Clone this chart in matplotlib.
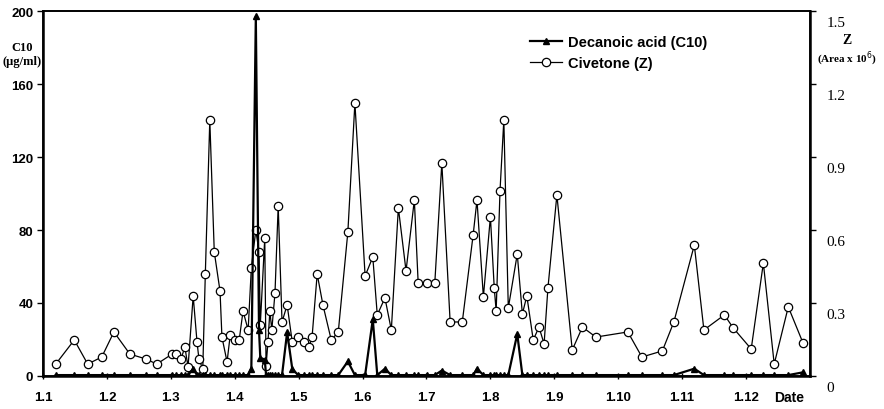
import matplotlib
matplotlib.use("Agg")
import matplotlib.pyplot as plt
from matplotlib.transforms import ScaledTranslation
from matplotlib.lines import Line2D

# sampling dates, as months after 1 Jan (0 = 1.1, 1 = 1.2, ...)
months = [0.20, 0.49, 0.70, 0.92, 1.11, 1.36, 1.61, 1.78, 2.02, 2.08,
          2.16, 2.22, 2.27, 2.35, 2.41, 2.44, 2.50, 2.54, 2.61, 2.68,
          2.77, 2.80, 2.88, 2.93, 3.00, 3.07, 3.13, 3.21, 3.26, 3.33,
          3.38, 3.40, 3.47, 3.49, 3.52, 3.55, 3.58, 3.63, 3.68, 3.74,
          3.82, 3.90, 3.99, 4.08, 4.16, 4.21, 4.29, 4.38, 4.51, 4.62,
          4.77, 4.88, 5.04, 5.16, 5.23, 5.35, 5.45, 5.56, 5.68, 5.81,
          5.87, 6.01, 6.13, 6.24, 6.37, 6.56, 6.73, 6.79, 6.89, 7.00,
          7.06, 7.09, 7.15, 7.21, 7.28, 7.42, 7.50, 7.57, 7.67, 7.76,
          7.84, 7.90, 8.04, 8.28, 8.44, 8.65, 9.15, 9.37, 9.69, 9.87,
          10.19, 10.34, 10.66, 10.80, 11.08, 11.27, 11.44, 11.66, 11.89]

# civetone peak area (x 10^6)
civetone = [0.049, 0.148, 0.049, 0.078, 0.181, 0.090, 0.070, 0.049, 0.090, 0.090,
            0.070, 0.119, 0.037, 0.329, 0.140, 0.070, 0.029, 0.419, 1.052, 0.510,
            0.349, 0.160, 0.058, 0.169, 0.148, 0.148, 0.267, 0.189, 0.444, 0.600,
            0.510, 0.210, 0.567, 0.041, 0.140, 0.267, 0.189, 0.341, 0.699, 0.222,
            0.292, 0.140, 0.160, 0.140, 0.119, 0.160, 0.419, 0.292, 0.148, 0.181,
            0.592, 1.122, 0.411, 0.489, 0.251, 0.321, 0.189, 0.691, 0.432, 0.723,
            0.382, 0.382, 0.382, 0.875, 0.222, 0.222, 0.580, 0.723, 0.325, 0.654,
            0.362, 0.267, 0.760, 1.052, 0.279, 0.501, 0.255, 0.329, 0.148, 0.201,
            0.132, 0.362, 0.744, 0.107, 0.201, 0.160, 0.181, 0.078, 0.103, 0.222,
            0.538, 0.189, 0.251, 0.197, 0.111, 0.464, 0.049, 0.284, 0.136]

# decanoic acid, ug/ml (near zero except these dates)
c10_peaks = {2.35: 4, 3.26: 4, 3.33: 197, 3.38: 25, 3.40: 10, 3.47: 9,
             3.82: 24, 3.90: 4, 4.77: 8, 5.16: 31, 5.35: 4, 6.24: 3,
             6.79: 4, 7.42: 23, 10.19: 4, 11.89: 2}
c10 = [c10_peaks.get(m, 0.5) for m in months]

month_labels = ["1.1", "1.2", "1.3", "1.4", "1.5", "1.6", "1.7", "1.8",
                "1.9", "1.10", "1.11", "1.12"]
c10_ticks = [0, 40, 80, 120, 160, 200]
z_ticks = [0, 0.3, 0.6, 0.9, 1.2, 1.5]

sans = "Liberation Sans"
serif = "Liberation Serif"

fig = plt.figure(figsize=(8.84, 4.10), dpi=100)
ax = fig.add_axes([0.0486, 0.0805, 0.8677, 0.8902])
ax2 = ax.twinx()

ax2.plot(months, civetone, color="black", lw=0.9, marker="o", ms=6,
         mfc="white", mec="black", mew=0.9, zorder=2)
ax.plot(months, c10, color="black", lw=1.6, marker="^", ms=5,
        mfc="black", mec="black", zorder=3)
ax.set_zorder(ax2.get_zorder() + 1)
ax.patch.set_visible(False)

ax.set_xlim(0, 12)
ax.set_ylim(0, 200)
ax2.set_ylim(0, 1.5)

ax.set_xticks(range(12))
ax.set_xticklabels(month_labels, fontfamily=sans, fontweight="bold", fontsize=9.5)
ax.set_yticks(c10_ticks)
ax.set_yticklabels([str(t) for t in c10_ticks], fontfamily=sans,
                   fontweight="bold", fontsize=9.5)
ax2.set_yticks(z_ticks)
ax2.set_yticklabels(["0", "0.3", "0.6", "0.9", "1.2", "1.5"], fontfamily=serif,
                    fontsize=11)

ax.tick_params(axis="x", direction="inout", length=5, width=1, pad=8)
ax.tick_params(axis="y", direction="out", length=4, width=1, pad=3)
ax2.tick_params(axis="y", direction="out", length=4, width=1, pad=8)

# right-hand values sit a little below their ticks
shift = ScaledTranslation(0, -0.1, fig.dpi_scale_trans)
for lab in ax2.get_yticklabels():
    lab.set_transform(lab.get_transform() + shift)

for a in (ax, ax2):
    for s in a.spines.values():
        s.set_linewidth(1.2)
ax2.spines["right"].set_linewidth(1.8)
ax.spines["left"].set_linewidth(1.8)
ax.spines["bottom"].set_linewidth(1.8)

fig.text(0.025, 0.866, "C10\n(μg/ml)", fontfamily=serif, fontweight="bold",
         fontsize=9, ha="center", va="center", linespacing=1.2)
fig.text(0.958, 0.902, "Z", fontfamily=serif, fontweight="bold",
         fontsize=10, ha="center", va="center")
fig.text(0.958, 0.857, "(Area x 10$^6$)", fontfamily=serif, fontweight="bold",
         fontsize=8, ha="center", va="center")
fig.text(0.893, 0.03, "Date", fontfamily=sans, fontweight="bold",
         fontsize=10, ha="center", va="center")

handles = [Line2D([], [], color="black", lw=1.6, marker="^", ms=5, mfc="black"),
           Line2D([], [], color="black", lw=0.9, marker="o", ms=6, mfc="white",
                  mew=0.9)]
leg = fig.legend(handles, ["Decanoic acid (C10)", "Civetone (Z)"],
                 loc="upper left", bbox_to_anchor=(0.585, 0.945), frameon=False,
                 handlelength=2.2, handletextpad=0.4, labelspacing=0.5,
                 prop={"family": sans, "weight": "bold", "size": 10.5})

fig.savefig("out.png", dpi=100)
